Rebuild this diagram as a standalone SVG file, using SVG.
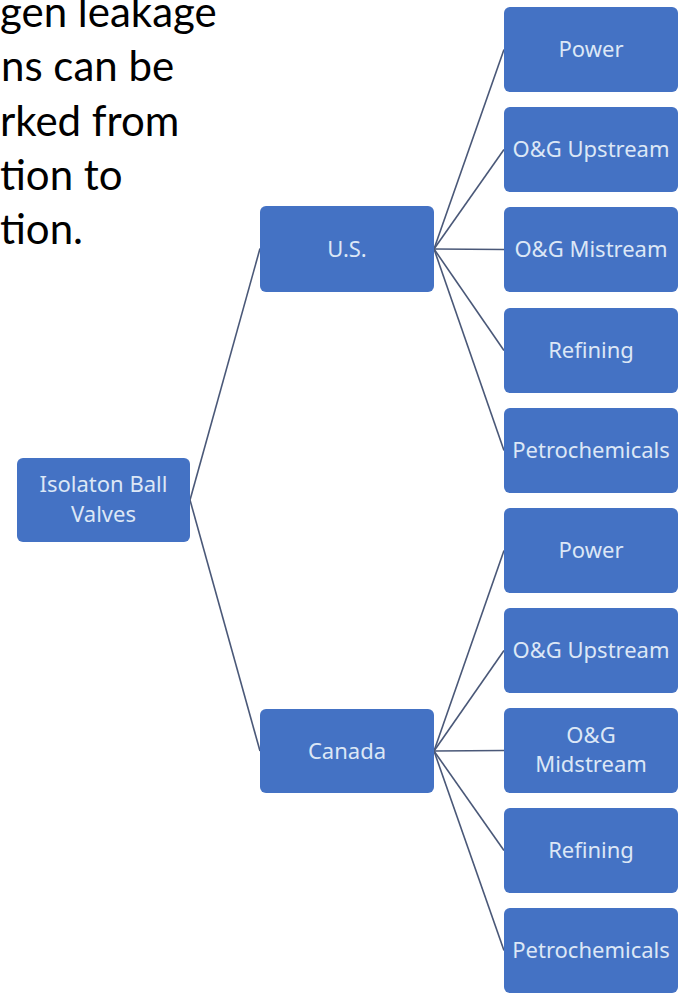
<svg xmlns="http://www.w3.org/2000/svg" width="685" height="995" viewBox="0 0 685 995">
  <style>
    .box { fill: #4472C4; }
    .lbl { font-family: "Noto Sans", "Open Sans", sans-serif; font-size: 22px; fill: #DCE7F6; text-anchor: middle; }
    .note { font-family: Lato, "Liberation Sans", sans-serif; font-size: 42px; fill: #000000; }
    .conn line { stroke: #4A5878; stroke-width: 1.6; fill: none; }
  </style>
  <rect x="0" y="0" width="685" height="995" fill="#FFFFFF"/>
  <g id="note">
    <text class="note" x="0" y="27">gen leakage</text>
    <text class="note" x="1" y="81">ns can be</text>
    <text class="note" x="0" y="136">rked from</text>
    <text class="note" x="0" y="190">tion to</text>
    <text class="note" x="0" y="244">tion.</text>
  </g>
  <g id="connectors" class="conn">
    <line x1="190" y1="500" x2="260" y2="248.5"/>
    <line x1="190" y1="500" x2="260" y2="751"/>
    <line x1="434" y1="249" x2="504" y2="49.5"/>
    <line x1="434" y1="249" x2="504" y2="149.5"/>
    <line x1="434" y1="249" x2="504" y2="249.5"/>
    <line x1="434" y1="249" x2="504" y2="350.5"/>
    <line x1="434" y1="249" x2="504" y2="450.5"/>
    <line x1="434" y1="751" x2="504" y2="550.5"/>
    <line x1="434" y1="751" x2="504" y2="650.5"/>
    <line x1="434" y1="751" x2="504" y2="750.5"/>
    <line x1="434" y1="751" x2="504" y2="850.5"/>
    <line x1="434" y1="751" x2="504" y2="950.5"/>
  </g>
  <g id="root">
    <rect class="box" x="17" y="458" width="173" height="84" rx="6"/>
    <text class="lbl" x="103.5" y="492">Isolaton Ball</text>
    <text class="lbl" x="103.5" y="522">Valves</text>
  </g>
  <g id="us">
    <rect class="box" x="260" y="206" width="174" height="86" rx="6"/>
    <text class="lbl" x="347" y="257">U.S.</text>
  </g>
  <g id="canada">
    <rect class="box" x="260" y="709" width="174" height="84" rx="6"/>
    <text class="lbl" x="347" y="759">Canada</text>
  </g>
  <g id="us-power">
    <rect class="box" x="504" y="7" width="174" height="85" rx="6"/>
    <text class="lbl" x="591" y="57">Power</text>
  </g>
  <g id="us-upstream">
    <rect class="box" x="504" y="107" width="174" height="85" rx="6"/>
    <text class="lbl" x="591" y="157">O&amp;G Upstream</text>
  </g>
  <g id="us-midstream">
    <rect class="box" x="504" y="207" width="174" height="85" rx="6"/>
    <text class="lbl" x="591" y="257">O&amp;G Mistream</text>
  </g>
  <g id="us-refining">
    <rect class="box" x="504" y="308" width="174" height="85" rx="6"/>
    <text class="lbl" x="591" y="358">Refining</text>
  </g>
  <g id="us-petro">
    <rect class="box" x="504" y="408" width="174" height="85" rx="6"/>
    <text class="lbl" x="591" y="458">Petrochemicals</text>
  </g>
  <g id="ca-power">
    <rect class="box" x="504" y="508" width="174" height="85" rx="6"/>
    <text class="lbl" x="591" y="558">Power</text>
  </g>
  <g id="ca-upstream">
    <rect class="box" x="504" y="608" width="174" height="85" rx="6"/>
    <text class="lbl" x="591" y="658">O&amp;G Upstream</text>
  </g>
  <g id="ca-midstream">
    <rect class="box" x="504" y="708" width="174" height="85" rx="6"/>
    <text class="lbl" x="591" y="743">O&amp;G</text>
    <text class="lbl" x="591" y="772">Midstream</text>
  </g>
  <g id="ca-refining">
    <rect class="box" x="504" y="808" width="174" height="85" rx="6"/>
    <text class="lbl" x="591" y="858">Refining</text>
  </g>
  <g id="ca-petro">
    <rect class="box" x="504" y="908" width="174" height="85" rx="6"/>
    <text class="lbl" x="591" y="958">Petrochemicals</text>
  </g>
</svg>
